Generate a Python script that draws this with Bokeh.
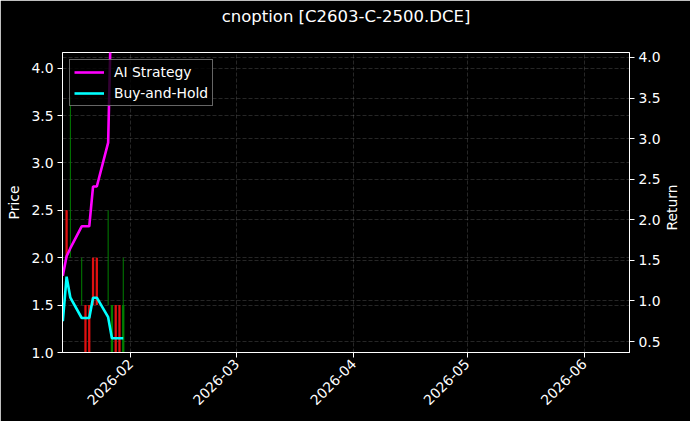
import math
import pandas as pd
from bokeh.plotting import figure
from bokeh.models import (Range1d, LinearAxis, SingleIntervalTicker, PrintfTickFormatter,
                          DatetimeTickFormatter, MonthsTicker, Grid, ColumnDataSource,
                          Legend, LegendItem, Label, Title)
from bokeh.embed import file_html
from bokeh.resources import INLINE

# ---------------- data ----------------
title_text = "cnoption [C2603-C-2500.DCE]"
left_label = "Price"
right_label = "Return"

line_dates = ["2026-01-14", "2026-01-15", "2026-01-16", "2026-01-19", "2026-01-20",
              "2026-01-21", "2026-01-22", "2026-01-23", "2026-01-26", "2026-01-27",
              "2026-01-28", "2026-01-29", "2026-01-30"]
ai_strategy = [1.31, 1.55, 1.65, 1.92, 1.92, 1.92, 2.41, 2.41, 2.95, 5.0, 5.4, 5.2, 5.5]
buy_and_hold = [0.75, 1.30, 1.04, 0.79, 0.79, 0.79, 1.04, 1.04, 0.80, 0.54, 0.54, 0.54, 0.54]

candle_dates = ["2026-01-15", "2026-01-16", "2026-01-19", "2026-01-20", "2026-01-21",
                "2026-01-22", "2026-01-23", "2026-01-26", "2026-01-27", "2026-01-28",
                "2026-01-29", "2026-01-30"]
open_ = [2.5, 2.0, 1.5, 1.5, 1.5, 2.0, 2.0, 1.5, 1.0, 1.5, 1.5, 1.0]
high = [2.5, 3.7, 2.0, 1.5, 1.5, 2.0, 2.0, 2.5, 1.5, 1.5, 1.5, 2.0]
low = [2.0, 2.0, 1.5, 1.0, 1.0, 1.5, 1.5, 1.5, 1.0, 1.0, 1.0, 1.0]
close = [2.0, 2.0, 1.5, 1.0, 1.0, 1.5, 1.5, 1.5, 1.5, 1.0, 1.0, 1.5]

x_start, x_end = "2026-01-13 22:00", "2026-06-13 00:00"
price_range = (1.0, 4.165)
return_range = (0.365, 4.061)

# ---------------- styling ----------------
FONT = "DejaVu Sans"
UP, DOWN = "#008000", "#e01010"

cd = pd.to_datetime(candle_dates)
is_up = [c >= o for o, c in zip(open_, close)]
csrc = ColumnDataSource(dict(
    x=cd, high=high, low=low,
    top=[max(o, c) for o, c in zip(open_, close)],
    bottom=[min(o, c) for o, c in zip(open_, close)],
    color=[UP if u else DOWN for u in is_up],
))
lsrc = ColumnDataSource(dict(x=pd.to_datetime(line_dates), ai=ai_strategy, bh=buy_and_hold))

p = figure(width=690, height=421, x_axis_type="datetime",
           x_range=Range1d(pd.Timestamp(x_start), pd.Timestamp(x_end)),
           y_range=Range1d(*price_range),
           output_backend="svg", toolbar_location=None,
           background_fill_color="black", border_fill_color="black",
           min_border_left=62, min_border_right=61, min_border_top=51, min_border_bottom=69)
p.extra_y_ranges = {"ret": Range1d(*return_range)}

# spacer between frame and title (stacked next to the frame), title outermost
p.add_layout(Title(text=" ", text_font_size="1px", standoff=15), "above")
p.title.text = title_text
p.title.text_color = "white"
p.title.text_font = FONT
p.title.text_font_size = "16.5px"
p.title.text_font_style = "normal"
p.title.align = "center"
p.title.vertical_align = "top"
p.title.standoff = 13

p.outline_line_color = "white"
p.outline_line_alpha = 1.0
p.outline_line_width = 1

def style_axis(ax, label):
    ax.axis_label = label
    ax.axis_line_color = "white"
    ax.major_tick_line_color = "white"
    ax.major_tick_out = 5
    ax.major_tick_in = 0
    ax.minor_tick_line_color = None
    ax.major_label_text_color = "white"
    ax.major_label_text_font = FONT
    ax.major_label_text_font_size = "13.9px"
    ax.major_label_standoff = 4
    ax.axis_label_text_color = "white"
    ax.axis_label_text_font = FONT
    ax.axis_label_text_font_size = "13.9px"
    ax.axis_label_text_font_style = "normal"
    ax.axis_label_standoff = 6

# x axis
xax = p.xaxis[0]
xax.ticker = MonthsTicker(months=list(range(1, 13)))
xax.formatter = DatetimeTickFormatter(months="%Y-%m", days="%Y-%m")
style_axis(xax, "")
xax.axis_label = None
xax.major_label_orientation = math.pi / 4

# left y
yax = p.yaxis[0]
yax.ticker = SingleIntervalTicker(interval=0.5, num_minor_ticks=0)
yax.formatter = PrintfTickFormatter(format="%.1f")
style_axis(yax, left_label)

# right y
rax = LinearAxis(y_range_name="ret",
                 ticker=SingleIntervalTicker(interval=0.5, num_minor_ticks=0),
                 formatter=PrintfTickFormatter(format="%.1f"))
style_axis(rax, "")
rax.axis_label = None
p.add_layout(rax, "right")

# right axis title, reading bottom-to-top like the reference (side panel, outside the frame)
p.add_layout(Label(x=8, y=145, x_units="screen", y_units="screen", text=right_label,
                   angle=math.pi / 2, text_align="center", text_baseline="middle",
                   text_color="white", text_font=FONT, text_font_size="13.9px"), "right")

# grids
for g in (p.xgrid[0], p.ygrid[0]):
    g.grid_line_color = "white"
    g.grid_line_alpha = 0.25
    g.grid_line_width = 0.6
    g.grid_line_dash = "4 2"
p.xgrid[0].ticker = xax.ticker
p.ygrid[0].ticker = yax.ticker
rgrid = Grid(dimension=1, ticker=rax.ticker, y_range_name="ret",
             grid_line_color="white", grid_line_alpha=0.25, grid_line_width=0.6,
             grid_line_dash="4 2")
p.add_layout(rgrid)

# candles
p.segment(x0="x", y0="low", x1="x", y1="high", source=csrc, line_color="color",
          line_width=1)
p.vbar(x="x", width=0.6 * 86400000, top="top", bottom="bottom", source=csrc,
       fill_color="color", line_color=None)

# lines (return axis)
ai_r = p.line("x", "ai", source=lsrc, line_color="#ff00ff", line_width=2.6, y_range_name="ret")
bh_r = p.line("x", "bh", source=lsrc, line_color="#00ffff", line_width=2.6, y_range_name="ret")

legend = Legend(items=[LegendItem(label="AI Strategy", renderers=[ai_r]),
                       LegendItem(label="Buy-and-Hold", renderers=[bh_r])],
                location="top_left")
legend.background_fill_color = "black"
legend.background_fill_alpha = 0.8
legend.border_line_color = "#cccccc"
legend.border_line_width = 1
legend.label_text_color = "white"
legend.label_text_font = FONT
legend.label_text_font_size = "13.9px"
legend.glyph_width = 30
legend.glyph_height = 16
legend.label_height = 16
legend.label_standoff = 10
legend.padding = 4
legend.spacing = 5
legend.margin = 7
p.add_layout(legend)

open("out.html", "w").write(file_html(p, INLINE))
